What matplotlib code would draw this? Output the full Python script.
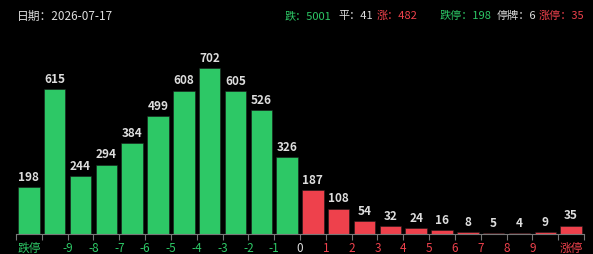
import matplotlib
matplotlib.use("Agg")
import matplotlib.pyplot as plt
import numpy as np

plt.rcParams['font.family'] = ['Noto Sans CJK SC', 'DejaVu Sans']

# bucket counts: 跌停, (-10,-9] ... (-1,0], (0,1] ... (9,10), 涨停
down_counts = [198, 615, 244, 294, 384, 499, 608, 702, 605, 526, 326]
up_counts = [187, 108, 54, 32, 24, 16, 8, 5, 4, 9, 35]
edge_labels = ['-9', '-8', '-7', '-6', '-5', '-4', '-3', '-2', '-1', '0',
               '1', '2', '3', '4', '5', '6', '7', '8', '9']
date_str = '2026-07-17'
summary_names = ['跌', '平', '涨', '跌停', '停牌', '涨停']
summary_values = ['5001', '41', '482', '198', '6', '35']
summary_colors = ['green', 'white', 'red', 'green', 'white', 'red']

GREEN = '#2dc866'
RED = '#ee414c'
WHITE = '#dddddd'
cmap = {'green': GREEN, 'red': RED, 'white': WHITE}

W, H = 593, 254
fig = plt.figure(figsize=(W / 100, H / 100), dpi=100, facecolor='black')
ax = fig.add_axes([16 / W, 1 - 234 / H, 568 / W, 194 / H], facecolor='black')

counts = down_counts + up_counts
x = np.arange(len(counts))
colors = [GREEN] * len(down_counts) + [RED] * len(up_counts)
bars = ax.bar(x, counts, width=0.83, color=colors, edgecolor='#1a1a1a', linewidth=0.4)
for xi, v in zip(x, counts):
    ax.text(xi, v + 14, str(v), ha='center', va='bottom', color=WHITE,
            fontsize=8.5, fontweight='bold')

ax.set_xlim(-0.5, len(counts) - 0.5)
ax.set_ylim(0, 194 / 0.236)

# tick marks at bucket boundaries, numeric labels on boundaries
bounds = np.arange(-0.5, len(counts), 1.0)
labels = ['', ''] + edge_labels + ['', '']
ax.set_xticks(bounds)
ax.set_xticklabels(labels, fontsize=8.5)
for lab, t in zip(ax.get_xticklabels(), labels):
    if t.startswith('-'):
        lab.set_color(GREEN)
    elif t == '0':
        lab.set_color(WHITE)
    else:
        lab.set_color(RED)
ax.tick_params(axis='x', which='major', length=4, color='#777777', pad=2)

# limit-up / limit-down labels centred on end bars
ax.set_xticks([0, len(counts) - 1], minor=True)
ax.set_xticklabels(['跌停', '涨停'], minor=True, fontsize=8.5)
ax.get_xticklabels(minor=True)[0].set_color(GREEN)
ax.get_xticklabels(minor=True)[1].set_color(RED)
ax.tick_params(axis='x', which='minor', length=0, pad=6)

ax.set_yticks([])
for s in ['top', 'right', 'left']:
    ax.spines[s].set_visible(False)
ax.spines['bottom'].set_color('#777777')

fig.text(17 / W, 1 - 16 / H, '日期：' + date_str, color=WHITE, fontsize=8.5,
         va='center', ha='left')
name_x = [285, 338, 377, 440, 497, 539]
for n, v, c, nx in zip(summary_names, summary_values, summary_colors, name_x):
    fig.text(nx / W, 1 - 16 / H, n + '：' + v, color=cmap[c], fontsize=8,
             va='center', ha='left')

fig.savefig('out.png', dpi=100, facecolor='black')
